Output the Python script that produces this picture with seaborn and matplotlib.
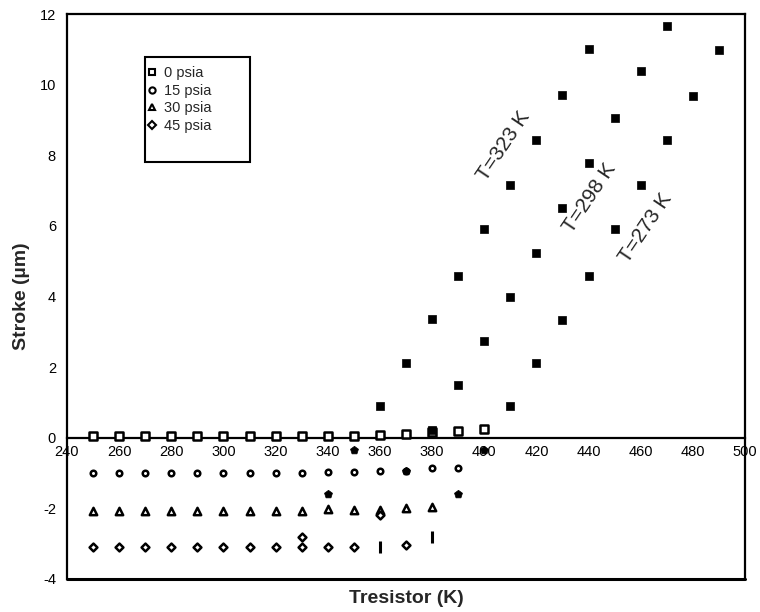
import matplotlib
matplotlib.use("Agg")
import matplotlib.pyplot as plt
import seaborn as sns
import pandas as pd
from matplotlib.lines import Line2D
from matplotlib.patches import Rectangle

# ---------------- data ----------------
tres = [250, 260, 270, 280, 290, 300, 310, 320, 330, 340, 350, 360, 370, 380, 390, 400]
psia0 = [0.05, 0.05, 0.05, 0.05, 0.05, 0.05, 0.05, 0.05, 0.05, 0.05, 0.05, 0.07, 0.11, 0.15, 0.18, 0.25]
tres15 = [250, 260, 270, 280, 290, 300, 310, 320, 330, 340, 350, 360, 370, 380, 390]
psia15 = [-1.0, -1.0, -1.0, -1.0, -1.0, -1.0, -1.0, -1.0, -1.0, -0.97, -0.97, -0.95, -0.93, -0.86, -0.85]
tres30 = [250, 260, 270, 280, 290, 300, 310, 320, 330, 340, 350, 360, 370, 380]
psia30 = [-2.07, -2.07, -2.07, -2.07, -2.07, -2.07, -2.07, -2.07, -2.07, -2.01, -2.04, -2.06, -1.99, -1.96]
tres45 = [250, 260, 270, 280, 290, 300, 310, 320, 330, 340, 350, 370]
psia45 = [-3.1, -3.1, -3.1, -3.1, -3.1, -3.1, -3.1, -3.1, -3.1, -3.08, -3.08, -3.03]
extra_diamond_x = [330, 360]
extra_diamond_y = [-2.8, -2.2]
bar_x = [360, 380]
bar_y = [-3.08, -2.8]

t323_x = [360, 370, 380, 390, 400, 410, 420, 430, 440]
t323_y = [0.89, 2.12, 3.35, 4.58, 5.9, 7.15, 8.43, 9.7, 11.0]
t298_x = [380, 390, 400, 410, 420, 430, 440, 450, 460, 470]
t298_y = [0.23, 1.5, 2.73, 3.98, 5.23, 6.52, 7.78, 9.06, 10.38, 11.65]
t273_x = [410, 420, 430, 440, 450, 460, 470, 480, 490]
t273_y = [0.89, 2.12, 3.34, 4.59, 5.91, 7.15, 8.42, 9.69, 10.99]
extra_fill_x = [340, 350, 370, 390, 400]
extra_fill_y = [-1.59, -0.35, -0.95, -1.59, -0.34]

legend_labels = ["0 psia", "15 psia", "30 psia", "45 psia"]
temp_labels = ["T=323 K", "T=298 K", "T=273 K"]

# ---------------- style ----------------
sns.set_style("white")
plt.rcParams["font.family"] = ["Liberation Sans", "DejaVu Sans"]
plt.rcParams["axes.unicode_minus"] = False

fig = plt.figure(figsize=(7.6, 6.12), dpi=100)
ax = fig.add_axes([67 / 760, 33 / 612, 678 / 760, 565 / 612])

open_kw = dict(facecolor="white", edgecolor="black", linewidth=1.8, ax=ax, zorder=3)

sns.scatterplot(x=tres, y=psia0, marker="s", s=28, **open_kw)
sns.scatterplot(x=tres15, y=psia15, marker="o", s=16, **open_kw)
sns.scatterplot(x=tres30, y=psia30, marker="^", s=28, **open_kw)
sns.scatterplot(x=tres45, y=psia45, marker="D", s=16, **open_kw)
sns.scatterplot(x=extra_diamond_x, y=extra_diamond_y, marker="D", s=16, **open_kw)
sns.scatterplot(x=bar_x, y=bar_y, marker="|", s=70, color="black", linewidth=2.2, ax=ax, zorder=3)

fill_kw = dict(color="black", edgecolor="black", linewidth=0.5, ax=ax, zorder=4)
for xs, ys in [(t323_x, t323_y), (t298_x, t298_y), (t273_x, t273_y)]:
    sns.scatterplot(x=xs, y=ys, marker="s", s=34, **fill_kw)
sns.scatterplot(x=extra_fill_x, y=extra_fill_y, marker="p", s=36, **fill_kw)

ax.set_xlim(240, 500)
ax.set_ylim(-4, 12)
ax.set_xticks(list(range(240, 501, 20)))
ax.set_yticks(list(range(-4, 13, 2)))

for sp in ax.spines.values():
    sp.set_color("black")
    sp.set_linewidth(1.6)
ax.spines["bottom"].set_position(("data", 0))
ax.plot([0, 1], [0, 0], transform=ax.transAxes, color="black", lw=2.2, clip_on=False, zorder=5)

ax.tick_params(axis="x", direction="inout", length=9, width=1.5, pad=1, labelsize=10.5, colors="black")
ax.tick_params(axis="y", direction="in", length=5, width=1.5, pad=8, labelsize=10.5, colors="black")

ax.set_xlabel("Tresistor (K)", fontsize=14, fontweight="bold")
ax.set_ylabel("Stroke (µm)", fontsize=14, fontweight="bold")
ax.xaxis.set_label_coords(0.5, -0.02)
ax.xaxis.label.set_va("top")
ax.yaxis.set_label_coords(-0.055, 0.5)

# rotated temperature labels
text_pos = [(407.5, 8.25), (440.5, 6.8), (462.0, 5.95)]
for lbl, (tx, ty) in zip(temp_labels, text_pos):
    ax.text(tx, ty, lbl, fontsize=15, rotation=56, ha="center", va="center",
            rotation_mode="anchor", zorder=6)

# legend
handles = [
    Line2D([], [], ls="none", marker="s", ms=5, mfc="white", mec="black", mew=1.5),
    Line2D([], [], ls="none", marker="o", ms=4.5, mfc="white", mec="black", mew=1.5),
    Line2D([], [], ls="none", marker="^", ms=5, mfc="white", mec="black", mew=1.5),
    Line2D([], [], ls="none", marker="D", ms=4, mfc="white", mec="black", mew=1.5),
]
box_x0 = (145 - 67) / 678
box_y1 = (579 - 57) / 565
box_w = 105 / 678
box_h = 105 / 565
ax.add_patch(Rectangle((box_x0, box_y1 - box_h), box_w, box_h, transform=ax.transAxes,
                       fill=True, facecolor="white", edgecolor="black", lw=1.5, zorder=6))
leg = ax.legend(handles, legend_labels, loc="upper left",
                bbox_to_anchor=((148 - 67) / 678, (579 - 66) / 565), frameon=False,
                fontsize=10.5, handlelength=0.6, handletextpad=0.5, labelspacing=0.25,
                borderpad=0.0, borderaxespad=0.0)
leg.set_zorder(7)

fig.savefig("out.png", dpi=100, facecolor="white")
